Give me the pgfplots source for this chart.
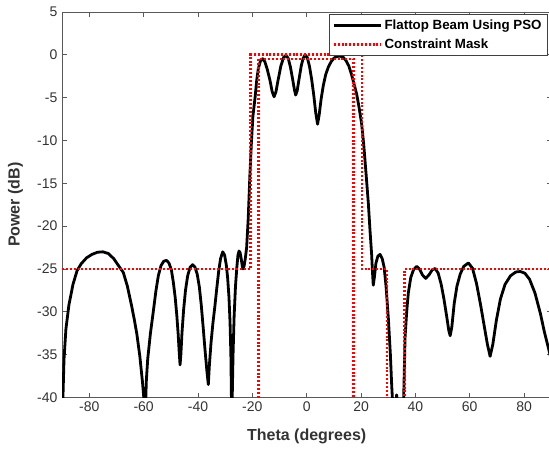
\documentclass[border=0pt]{standalone}
\usepackage{fontspec}
\setmainfont{Liberation Sans}
\usepackage{pgfplots}
\pgfplotsset{compat=1.18}
\definecolor{maskred}{RGB}{255,0,0}
\begin{document}
\begin{tikzpicture}
\path[use as bounding box] (-46.6pt,-39.4pt) rectangle (365.2pt,298.1pt);
\begin{axis}[
  at={(0,0)}, anchor=south west, scale only axis,
  width=366.9pt, height=289.1pt,
  xmin=-90, xmax=90, ymin=-40, ymax=5,
  xtick={-80,-60,...,80}, ytick={-40,-35,...,5},
  axis line style={black!65, line width=0.6pt},
  tick style={black!65, line width=0.6pt}, major tick length=3.5pt,
  tick align=inside,
  /pgf/number format/assume math mode=true,
  ticklabel style={font=\fontsize{10.5}{12}\selectfont, text=black!80},
  xlabel={Theta (degrees)}, ylabel={Power (dB)},
  xlabel style={at={(axis description cs:0.5,-0.1024)}, anchor=center, font=\bfseries\fontsize{12}{14}\selectfont, text=black!80},
  ylabel style={at={(axis description cs:-0.0954,0.5)}, anchor=center, font=\bfseries\fontsize{12}{14}\selectfont, text=black!80},
  legend style={at={(axis description cs:0.992,0.995)}, anchor=north east,
    draw=black!75, line width=0.6pt, font=\bfseries\fontsize{10}{12}\selectfont,
    inner xsep=2pt, inner ysep=2pt, row sep=1.5pt, cells={anchor=west}},
  legend image code/.code={\draw[#1] (0pt,0pt) -- (35pt,0pt);},
]
\addplot[black, line width=2.1pt, line join=round] coordinates {
(-90,-50) (-89.7,-40) (-89.3,-35.5) (-88.6,-32) (-87.5,-29.2) (-86,-26.8) (-84.5,-25.2) (-83,-24.4) (-81,-23.7) (-79,-23.3) (-77,-23.05) (-75,-23.0) (-73,-23.2) (-71,-23.8) (-69.5,-24.5) (-67.5,-25.4) (-66,-27) (-64.5,-29.2) (-63.5,-30.8) (-62.5,-32.6) (-61.4,-35.2) (-60.4,-38.3) (-59.7,-41) (-59.45,-50)
(-59.3,-41) (-59.0,-38) (-58.5,-35.5) (-57.5,-32.5) (-56.5,-30.1) (-55.5,-27.6) (-54.6,-25.8) (-53.6,-24.6) (-52.6,-24.1) (-51.6,-24.0) (-50.7,-24.3) (-49.8,-25.1) (-49.1,-26.5) (-48.4,-28.3) (-47.8,-30.4) (-47.3,-32.6) (-46.9,-34.8) (-46.6,-36.2)
(-46.3,-35) (-45.9,-32.5) (-45.3,-29.8) (-44.6,-27.5) (-43.8,-25.8) (-42.9,-24.8) (-42.0,-24.5) (-41.1,-24.8) (-40.3,-25.6) (-39.5,-27.1) (-38.8,-29.2) (-38.1,-31.8) (-37.4,-34.5) (-36.7,-37) (-36.2,-38.5)
(-35.8,-36.2) (-35.2,-33.6) (-34.5,-31.3) (-33.8,-29.4) (-33.1,-27.3) (-32.4,-25.3) (-31.7,-23.8) (-30.9,-23.0) (-30.2,-23.4) (-29.6,-24.5) (-29.1,-26) (-28.6,-28.3) (-28.2,-31.3) (-27.9,-35) (-27.7,-40) (-27.55,-50)
(-27.4,-40) (-27.1,-35) (-26.7,-30.5) (-26.2,-27) (-25.7,-24.8) (-25.3,-23.4) (-24.9,-22.9) (-24.5,-23.1) (-24.1,-23.8) (-23.7,-24.7) (-23.4,-25.0) (-23.0,-24.6) (-22.6,-23.8) (-22.1,-22.5) (-21.5,-19.0) (-20.9,-14.0) (-20.3,-10.0) (-19.8,-7.2) (-19.0,-5.0) (-18.4,-3.0) (-17.8,-1.6) (-17.0,-0.7) (-16.2,-0.45) (-15.4,-0.8) (-14.5,-1.7) (-13.5,-3.0) (-12.7,-4.3) (-12.0,-4.9) (-11.3,-4.3) (-10.5,-2.9) (-9.5,-1.3) (-8.5,-0.3) (-7.6,-0.05) (-6.8,-0.4) (-6,-1.4) (-5.2,-2.8) (-4.5,-4.1) (-4.05,-4.7) (-3.5,-4.2) (-2.8,-2.8) (-2.0,-1.3) (-1.3,-0.4) (-0.6,0) (0.2,-0.3) (1.0,-1.3) (1.8,-2.8) (2.6,-4.7) (3.3,-6.7) (4.0,-8.1) (4.6,-7.0) (5.3,-5.2) (6.1,-3.6) (7.0,-2.3) (8.0,-1.4) (9.0,-0.8) (10.0,-0.4) (11.0,-0.2) (12.3,-0.15) (13.5,-0.3) (14.5,-0.7) (15.5,-1.3) (16.5,-2.3) (17.5,-3.5) (18.4,-4.6) (19.2,-6.0) (20.2,-8.0) (21.0,-10.5) (22.0,-14.5) (22.7,-17.4) (23.3,-20.5) (23.9,-23.3) (24.2,-25.3) (24.5,-26.9) (24.9,-26.0) (25.5,-24.3) (26.2,-23.5) (27.0,-23.3) (27.8,-23.8) (28.5,-24.8) (29.2,-27) (30.1,-31) (30.8,-35) (31.3,-38.7) (31.7,-41) (32.5,-41.5) (33.1,-39.7) (33.7,-41.5) (34.2,-50) (35.3,-50) (35.7,-40) (36.2,-33) (36.8,-30) (37.4,-27.8) (38.3,-26) (39.3,-25.1) (40.5,-24.7) (41.5,-25) (42.6,-25.7) (43.8,-26.1) (45,-25.7) (46.2,-25.1) (47.3,-24.95) (48.4,-25.5) (49.5,-26.8) (50.5,-28.5) (51.5,-30.5) (52.3,-32.2) (52.8,-32.8) (53.4,-31.8) (54.3,-29.0) (55.3,-27.0) (56.5,-25.6) (57.8,-24.7) (59.5,-24.3) (61,-24.9) (62.5,-26.7) (64,-29.2) (65.3,-31.6) (66.5,-33.8) (67.5,-35.2) (68.5,-33.8) (69.8,-31) (71.3,-28.5) (73,-26.8) (75,-25.8) (77,-25.35) (78.6,-25.3) (80.3,-25.5) (82,-26.2) (84,-27.8) (86,-30.2) (87.5,-32.4) (89,-34.3) (90,-35.6)
};
\addlegendentry{Flattop Beam Using PSO}
\addplot[maskred, line width=2pt, dash pattern=on 1.5pt off 1.4pt] coordinates {
(-90,-25) (-20.8,-25) (-20.8,0) (20.3,0) (20.3,-25) (29.5,-25) (29.5,-45) (36,-45) (36,-25) (90,-25)
};
\addlegendentry{Constraint Mask}
\addplot[maskred, line width=2pt, dash pattern=on 1.5pt off 1.4pt, forget plot] coordinates {
(-17.7,-45) (-17.7,-0.5) (17.3,-0.5) (17.3,-45)
};
\end{axis}
\end{tikzpicture}
\end{document}
